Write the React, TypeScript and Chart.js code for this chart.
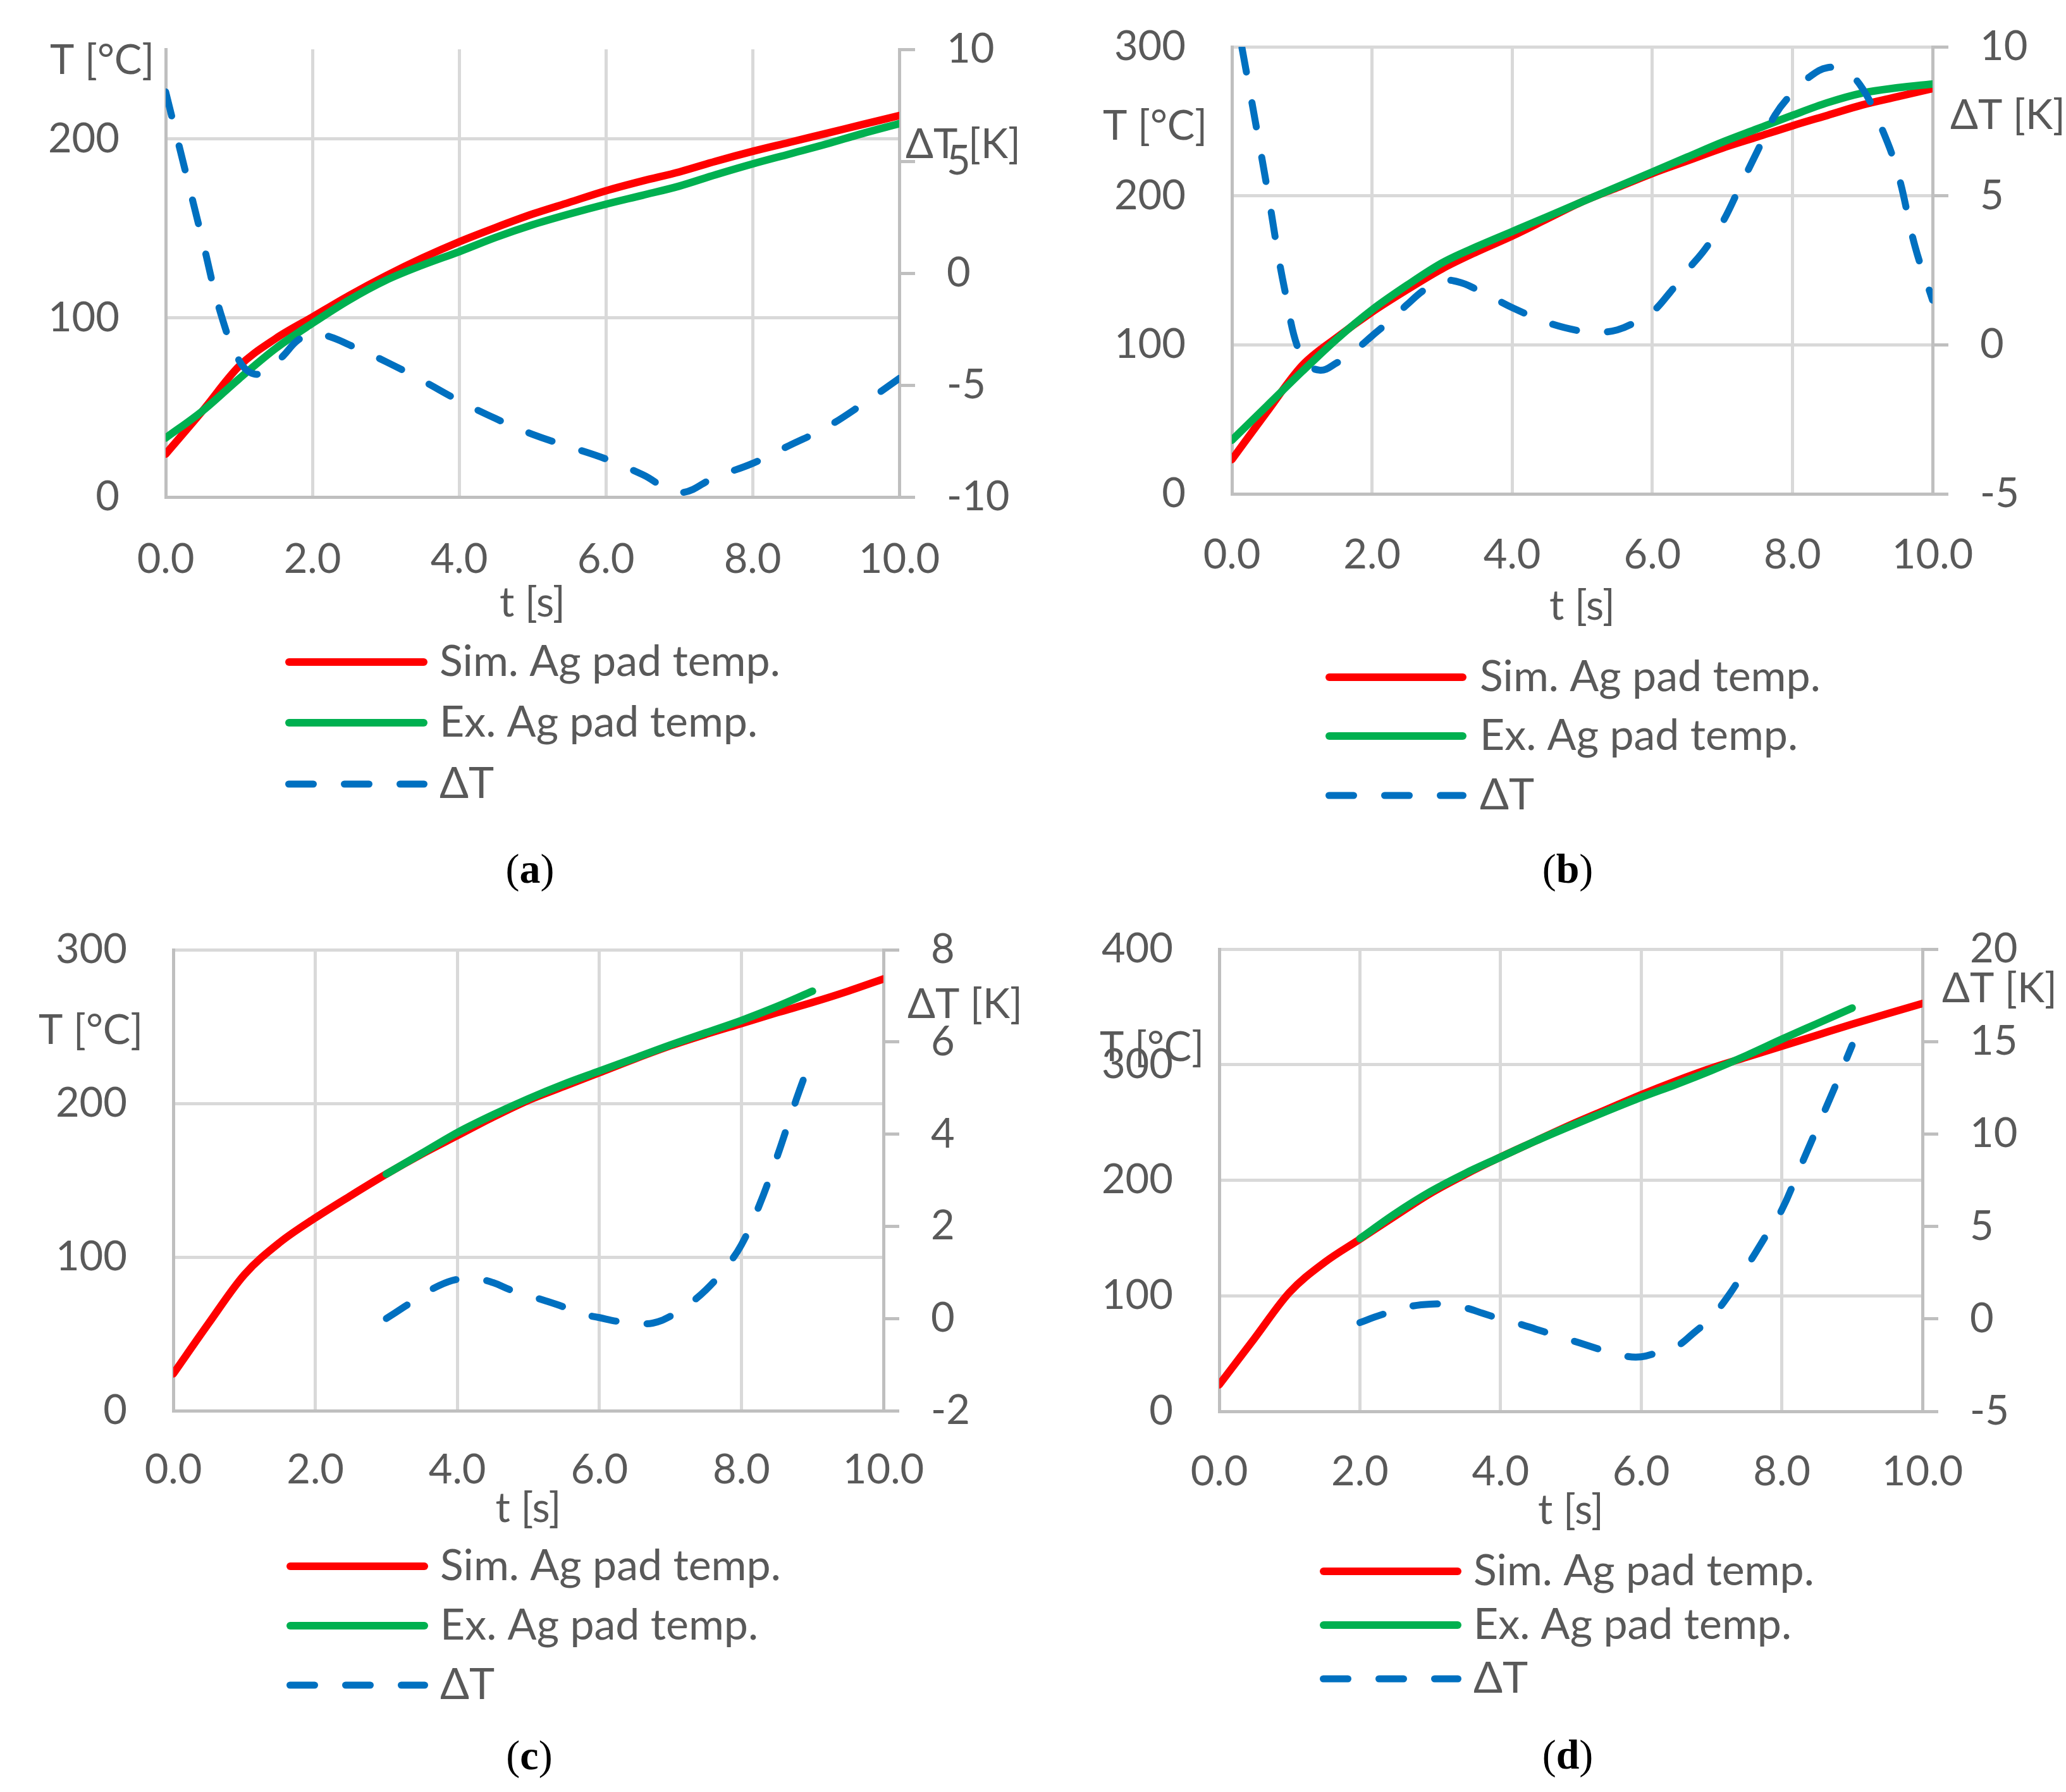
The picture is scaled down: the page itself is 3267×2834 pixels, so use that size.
import React, { useEffect, useRef } from "react";
import { Chart, registerables } from "chart.js";

Chart.register(...registerables);

// ---------- data ----------
const LABEL_SIM = "Sim. Ag pad temp.";
const LABEL_EX = "Ex. Ag pad temp.";
const LABEL_DT = "ΔT";
const TITLE_X = "t [s]";
const TITLE_T = "T [°C]";
const TITLE_DT = "ΔT [K]";

const T_FULL = [0, 0.5, 1, 1.5, 2, 2.5, 3, 3.5, 4, 4.5, 5, 5.5, 6, 6.5, 7, 7.5, 8, 8.5, 9, 9.5, 10];

// (a)
const A_SIM = [24, 48, 73, 88.5, 100.5, 112.5, 123.5, 133.5, 142.5, 150.5, 158, 164.5, 171, 176.5, 181.5, 187.5, 193, 198, 203, 208, 213];
const A_EX = [33, 48, 66, 83, 97, 110, 121, 129.5, 137, 145, 152, 158, 163.5, 168.5, 173.6, 180, 186, 191.5, 197, 203, 208.5];
const A_DT_T = [0, 0.25, 0.5, 0.75, 1, 1.2, 1.4, 1.6, 1.8, 2, 2.25, 2.5, 3, 3.5, 4, 4.5, 5, 5.5, 6, 6.5, 7, 7.5, 8, 8.5, 9, 9.5, 10];
const A_DT = [8.1, 4.8, 1.5, -1.8, -3.9, -4.5, -4.3, -3.7, -3.0, -2.7, -2.85, -3.2, -3.95, -4.8, -5.7, -6.5, -7.2, -7.75, -8.3, -9.0, -9.8, -9.1, -8.5, -7.7, -6.9, -5.85, -4.7];
const A_T_TICKS = [0, 100, 200];

// (b)
const B_SIM = [23, 55, 86, 105, 122, 137, 151, 162.5, 173, 184.5, 196, 205.5, 215, 223.5, 232, 239.5, 247, 254, 261, 266.5, 272];
const B_EX = [36, 59, 82, 104, 123.5, 140, 155, 166, 176, 186, 196, 206, 216, 226, 236, 245, 254, 262.5, 269, 272.5, 275];
const B_DT_T = [0, 0.25, 0.5, 0.75, 1, 1.25, 1.5, 1.75, 2, 2.25, 2.5, 2.75, 3, 3.25, 3.5, 3.75, 4, 4.5, 5, 5.25, 5.5, 5.75, 6, 6.25, 6.5, 6.75, 7, 7.25, 7.5, 7.75, 8, 8.25, 8.5, 8.75, 9, 9.25, 9.5, 9.75, 10];
const B_DT = [11.8, 8.6, 5.3, 1.9, -0.45, -0.85, -0.6, -0.2, 0.3, 0.8, 1.35, 1.85, 2.15, 2.1, 1.85, 1.55, 1.25, 0.75, 0.45, 0.42, 0.5, 0.75, 1.1, 1.75, 2.5, 3.2, 4.1, 5.3, 6.5, 7.7, 8.45, 9.0, 9.3, 9.2, 8.6, 7.4, 5.8, 3.3, 1.5];
const B_T_TICKS = [0, 100, 200, 300];

// (c)
const C_SIM = [24, 57, 88.5, 109.5, 125.5, 140, 154, 167, 179, 191, 202, 211, 220, 229, 237.5, 245, 252, 259, 265.7, 273, 281];
const C_EX_T = [3, 3.5, 4, 4.5, 5, 5.5, 6, 6.5, 7, 7.5, 8, 8.5, 9];
const C_EX = [154, 167.5, 181, 192.5, 203, 212.5, 221, 229.5, 238, 246, 254, 263, 273];
const C_DT_T = [3, 3.25, 3.5, 3.75, 4, 4.25, 4.5, 4.75, 5, 5.25, 5.5, 5.75, 6, 6.25, 6.5, 6.75, 7, 7.25, 7.5, 7.75, 8, 8.25, 8.5, 8.75, 8.9];
const C_DT = [0, 0.25, 0.5, 0.72, 0.85, 0.87, 0.78, 0.62, 0.5, 0.38, 0.25, 0.1, 0.02, -0.06, -0.1, -0.1, 0.05, 0.3, 0.62, 1.05, 1.6, 2.45, 3.5, 4.65, 5.3];
const C_T_TICKS = [0, 100, 200, 300];

// (d)
const D_SIM = [23, 63, 103, 129, 149, 169, 188.5, 205, 220, 234, 248, 261, 274, 286, 297, 306.5, 316, 325.5, 335, 344, 353];
const D_EX_T = [2, 2.5, 3, 3.5, 4, 4.5, 5, 5.5, 6, 6.5, 7, 7.5, 8, 8.5, 9];
const D_EX = [149.5, 171, 190, 206, 220, 234, 247, 259.5, 271.7, 283, 295, 308, 322, 335.5, 349];
const D_DT_T = [2, 2.25, 2.5, 2.75, 3, 3.25, 3.5, 3.75, 4, 4.25, 4.5, 4.75, 5, 5.25, 5.5, 5.75, 6, 6.25, 6.5, 6.75, 7, 7.25, 7.5, 7.75, 8, 8.25, 8.5, 8.75, 9];
const D_DT = [-0.2, 0.15, 0.45, 0.7, 0.8, 0.78, 0.6, 0.3, 0.0, -0.25, -0.55, -0.85, -1.15, -1.45, -1.75, -2.0, -2.05, -1.8, -1.5, -0.75, 0.1, 1.3, 2.8, 4.35, 5.9, 8.1, 10.3, 12.5, 14.8];
const D_T_TICKS = [0, 100, 200, 300, 400];

// ---------- styles ----------
const FONT = "Lato, 'Open Sans', sans-serif";
const TEXT = "#595959";
const GRID = "#d9d9d9";
const AXIS = "#bfbfbf";
const RED = "#ff0000";
const GREEN = "#00b050";
const BLUE = "#0070c0";
const TICK_SIZE = 65;
const TITLE_SIZE = 65;
const LEGEND_SIZE = 68;
const LH = 1.2;

type Panel = {
  id: string;
  x: number; y: number; w: number; h: number;
  area: { l: number; t: number; r: number; b: number };
  sim: { t: number[]; v: number[] };
  ex: { t: number[]; v: number[] };
  dt: { t: number[]; v: number[] };
  tMin: number; tMax: number; tTicks: number[];
  dMin: number; dMax: number; dStep: number;
  xTickOff: number; xTitleOff: number;
  tTitle: { x: number; y: number };
  dTitle: { x: number; y: number };
  legend: { x1: number; x2: number; tx: number; ys: number[] };
  caption: { x: number; y: number };
};

const PANELS: Panel[] = [
  {
    id: "a", x: 0, y: 0, w: 1634, h: 1330,
    area: { l: 262, t: 78, r: 1422, b: 786 },
    sim: { t: T_FULL, v: A_SIM }, ex: { t: T_FULL, v: A_EX }, dt: { t: A_DT_T, v: A_DT },
    tMin: 0, tMax: 250, tTicks: A_T_TICKS, dMin: -10, dMax: 10, dStep: 5,
    xTickOff: 99, xTitleOff: 168,
    tTitle: { x: 79, y: 96 }, dTitle: { x: 1432, y: 229 },
    legend: { x1: 451, x2: 676, tx: 695, ys: [1047, 1143, 1240] },
    caption: { x: 838, y: 1374 },
  },
  {
    id: "b", x: 1634, y: 0, w: 1633, h: 1330,
    area: { l: 314, t: 74, r: 1422, b: 781 },
    sim: { t: T_FULL, v: B_SIM }, ex: { t: T_FULL, v: B_EX }, dt: { t: B_DT_T, v: B_DT },
    tMin: 0, tMax: 300, tTicks: B_T_TICKS, dMin: -5, dMax: 10, dStep: 5,
    xTickOff: 97, xTitleOff: 178,
    tTitle: { x: 110, y: 200 }, dTitle: { x: 1450, y: 183 },
    legend: { x1: 462, x2: 685, tx: 706, ys: [1071, 1164, 1258] },
    caption: { x: 2479, y: 1374 },
  },
  {
    id: "c", x: 0, y: 1440, w: 1634, h: 1290,
    area: { l: 274, t: 62, r: 1397, b: 791 },
    sim: { t: T_FULL, v: C_SIM }, ex: { t: C_EX_T, v: C_EX }, dt: { t: C_DT_T, v: C_DT },
    tMin: 0, tMax: 300, tTicks: C_T_TICKS, dMin: -2, dMax: 8, dStep: 2,
    xTickOff: 94, xTitleOff: 155,
    tTitle: { x: 61, y: 190 }, dTitle: { x: 1435, y: 149 },
    legend: { x1: 453, x2: 677, tx: 696, ys: [1037, 1131, 1225] },
    caption: { x: 837, y: 2776 },
  },
  {
    id: "d", x: 1634, y: 1440, w: 1633, h: 1290,
    area: { l: 294, t: 61, r: 1406, b: 792 },
    sim: { t: T_FULL, v: D_SIM }, ex: { t: D_EX_T, v: D_EX }, dt: { t: D_DT_T, v: D_DT },
    tMin: 0, tMax: 400, tTicks: D_T_TICKS, dMin: -5, dMax: 20, dStep: 5,
    xTickOff: 96, xTitleOff: 157,
    tTitle: { x: 105, y: 217 }, dTitle: { x: 1437, y: 124 },
    legend: { x1: 453, x2: 677, tx: 696, ys: [1045, 1130, 1215] },
    caption: { x: 2479, y: 2775 },
  },
];

const zip = (t: number[], v: number[]) => t.map((x, i) => ({ x, y: v[i] }));
const TRANSPARENT = "rgba(0,0,0,0)";

function overlayPlugin(p: Panel) {
  return {
    id: "overlay_" + p.id,
    afterDraw(chart: any) {
      const ctx = chart.ctx as CanvasRenderingContext2D;
      ctx.save();
      ctx.fillStyle = TEXT;
      ctx.textBaseline = "middle";
      ctx.textAlign = "left";
      ctx.font = `${TITLE_SIZE}px ${FONT}`;
      ctx.fillText(TITLE_T, p.tTitle.x, p.tTitle.y);
      ctx.fillText(TITLE_DT, p.dTitle.x, p.dTitle.y);
      // legend
      ctx.font = `${LEGEND_SIZE}px ${FONT}`;
      chart.data.datasets.forEach((ds: any, i: number) => {
        const y = p.legend.ys[i];
        ctx.save();
        ctx.strokeStyle = ds.borderColor;
        ctx.lineWidth = ds.borderWidth;
        ctx.lineCap = "round";
        ctx.setLineDash(ds.borderDash || []);
        ctx.beginPath();
        const half = ds.borderWidth / 2;
        ctx.moveTo(p.legend.x1 + half, y);
        ctx.lineTo(p.legend.x2 - half, y);
        ctx.stroke();
        ctx.restore();
        ctx.fillText(ds.label, p.legend.tx, y);
      });
      ctx.restore();
    },
  };
}

const zeroPadding = (s: any) => {
  s.paddingTop = 0;
  s.paddingBottom = 0;
  s.paddingLeft = 0;
  s.paddingRight = 0;
};

function buildConfig(p: Panel): any {
  const xH = p.xTitleOff + (TITLE_SIZE * LH) / 2;
  const tickFont = { family: FONT, size: TICK_SIZE, lineHeight: LH };
  return {
    type: "line",
    data: {
      datasets: [
        {
          label: LABEL_SIM, data: zip(p.sim.t, p.sim.v), borderColor: RED, backgroundColor: RED,
          borderWidth: 12, yAxisID: "yT", order: 2, cubicInterpolationMode: "monotone",
          pointRadius: 0, borderCapStyle: "round", borderJoinStyle: "round", fill: false,
        },
        {
          label: LABEL_EX, data: zip(p.ex.t, p.ex.v), borderColor: GREEN, backgroundColor: GREEN,
          borderWidth: 12, yAxisID: "yT", order: 1, cubicInterpolationMode: "monotone",
          pointRadius: 0, borderCapStyle: "round", borderJoinStyle: "round", fill: false,
        },
        {
          label: LABEL_DT, data: zip(p.dt.t, p.dt.v), borderColor: BLUE, backgroundColor: BLUE,
          borderWidth: 11, borderDash: [39, 49], yAxisID: "yD", order: 0, tension: 0.4,
          pointRadius: 0, borderCapStyle: "round", borderJoinStyle: "round", fill: false,
        },
      ],
    },
    options: {
      responsive: false,
      animation: false,
      devicePixelRatio: 1,
      events: [],
      layout: { padding: { left: 0, right: 0, top: p.area.t, bottom: p.h - p.area.b - xH } },
      plugins: { legend: { display: false }, tooltip: { enabled: false }, title: { display: false } },
      scales: {
        x: {
          type: "linear", position: "bottom", min: 0, max: 10,
          ticks: {
            stepSize: 2, padding: p.xTickOff - (TICK_SIZE * LH) / 2, color: TEXT, font: tickFont,
            maxRotation: 0, autoSkip: false, callback: (v: any) => Number(v).toFixed(1),
          },
          grid: {
            color: (c: any) => (c.tick && (c.tick.value === 0 || c.tick.value === 10) ? TRANSPARENT : GRID),
            lineWidth: 5, drawTicks: false,
          },
          border: { display: true, color: AXIS, width: 5 },
          title: { display: true, text: TITLE_X, color: TEXT, font: { family: FONT, size: TITLE_SIZE, lineHeight: LH }, padding: 0 },
          afterFit: (s: any) => { s.height = xH; zeroPadding(s); },
        },
        yT: {
          type: "linear", position: "left", min: p.tMin, max: p.tMax,
          ticks: { stepSize: 100, padding: 73, color: TEXT, font: tickFont },
          grid: {
            color: (c: any) => (c.tick && c.tick.value === p.tMin ? TRANSPARENT : GRID),
            lineWidth: 5, drawTicks: false,
          },
          border: { display: true, color: AXIS, width: 5 },
          afterBuildTicks: (s: any) => { s.ticks = p.tTicks.map((v) => ({ value: v })); },
          afterFit: (s: any) => { s.width = p.area.l; zeroPadding(s); },
        },
        yD: {
          type: "linear", position: "right", min: p.dMin, max: p.dMax,
          ticks: { stepSize: p.dStep, padding: 50, color: TEXT, font: tickFont },
          grid: {
            drawOnChartArea: false, drawTicks: true, tickLength: 25,
            tickColor: AXIS, tickWidth: 5, lineWidth: 5, color: AXIS,
          },
          border: { display: true, color: AXIS, width: 5 },
          afterFit: (s: any) => { s.width = p.w - p.area.r; zeroPadding(s); },
        },
      },
    },
    plugins: [overlayPlugin(p)],
  };
}

function PanelChart({ p }: { p: Panel }) {
  const ref = useRef<HTMLCanvasElement>(null);
  useEffect(() => {
    if (!ref.current) return;
    const chart = new Chart(ref.current, buildConfig(p));
    return () => chart.destroy();
  }, [p]);
  return (
    <canvas
      ref={ref}
      width={p.w}
      height={p.h}
      style={{ position: "absolute", left: p.x, top: p.y, width: p.w, height: p.h, display: "block" }}
    />
  );
}

export default function App() {
  return (
    <div style={{ position: "absolute", left: 0, top: 0, width: 3267, height: 2834, background: "#ffffff", overflow: "hidden" }}>
      {PANELS.map((p) => (
        <PanelChart key={p.id} p={p} />
      ))}
      {PANELS.map((p) => (
        <div
          key={"cap" + p.id}
          style={{
            position: "absolute", left: p.caption.x, top: p.caption.y, transform: "translate(-50%, -50%)",
            fontFamily: "'Liberation Serif', 'DejaVu Serif', serif", fontSize: 66, lineHeight: 1,
            color: "#000", whiteSpace: "nowrap",
          }}
        >
          (<b>{p.id}</b>)
        </div>
      ))}
    </div>
  );
}
